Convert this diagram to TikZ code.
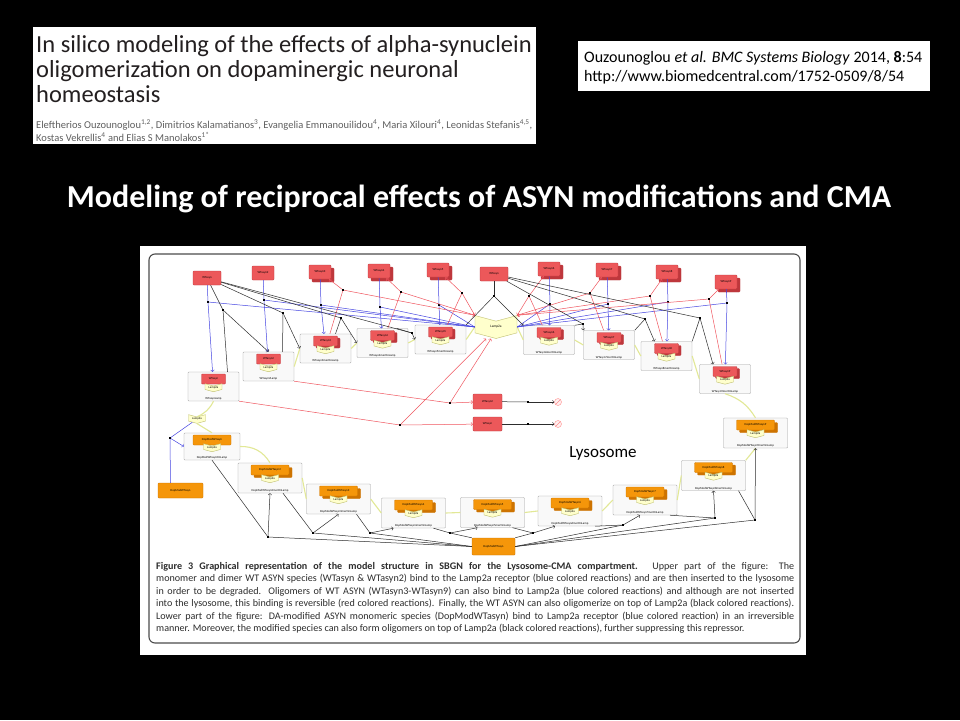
\documentclass[tikz,border=0pt]{standalone}
\usepackage{fontspec}
\setmainfont{Carlito}
\usepackage{xcolor}
\usetikzlibrary{arrows}
\usetikzlibrary{shapes.symbols}
\usetikzlibrary{shadows}

\definecolor{wtred}{RGB}{236,88,90}
\definecolor{wtdark}{RGB}{190,55,60}
\definecolor{dmorange}{RGB}{245,150,10}
\definecolor{dmdark}{RGB}{205,115,0}
\definecolor{lampfill}{RGB}{255,255,204}
\definecolor{lampdraw}{RGB}{190,190,110}
\definecolor{lampline}{RGB}{226,232,150}
\definecolor{rxblue}{RGB}{70,70,225}
\definecolor{rxred}{RGB}{240,85,95}
\definecolor{rxgray}{RGB}{45,45,45}
\definecolor{hdrgray}{RGB}{35,31,32}
\definecolor{authgray}{RGB}{95,95,95}
\definecolor{capgray}{RGB}{45,45,45}

\tikzset{
  tinyf/.style={font=\fontsize{3}{3}\selectfont},
  spc/.style={draw=wtdark, fill=wtred, rounded corners=0.8pt, minimum width=22pt, minimum height=14pt, inner sep=0pt, tinyf},
  spcm/.style={spc, copy shadow={shadow xshift=3pt, shadow yshift=-3pt, fill=wtdark, draw=wtdark}},
  dop/.style={spc, draw=dmdark, fill=dmorange},
  dopm/.style={dop, copy shadow={shadow xshift=3pt, shadow yshift=-3pt, fill=dmdark, draw=dmdark}},
  lamp/.style={shape=signal, signal from=north, signal to=south, signal pointer angle=150, draw=lampdraw, fill=lampfill, inner sep=0.5pt, tinyf},
  cplx/.style={draw=gray!75, fill=gray!5, rounded corners=0.8pt, minimum width=51pt, minimum height=29pt, inner sep=0pt},
  dcplx/.style={cplx, minimum width=64pt, minimum height=30pt},
  inwt/.style={spc, anchor=north, yshift=-2pt, minimum width=24pt, minimum height=10pt},
  inwtm/.style={inwt, copy shadow={shadow xshift=2.5pt, shadow yshift=-2pt, fill=wtdark, draw=wtdark}},
  indm/.style={dop, anchor=north, yshift=-2pt, minimum width=38pt, minimum height=10pt},
  indmm/.style={indm, copy shadow={shadow xshift=3pt, shadow yshift=-2.5pt, fill=dmdark, draw=dmdark}},
  inlamp/.style={lamp, anchor=north, yshift=-14pt, minimum width=17pt, minimum height=6pt},
  cname/.style={anchor=south, inner sep=1pt, tinyf},
  proc/.style={fill=black, inner sep=0pt, minimum size=1.6pt},
  sink/.style={circle, draw=red!45, fill=red!6, minimum size=7pt, inner sep=0pt,
    path picture={\draw[red!45] (path picture bounding box.south west) -- (path picture bounding box.north east);}},
  bl/.style={draw=rxblue, line width=0.5pt},
  rd/.style={draw=rxred, line width=0.5pt},
  bk/.style={draw=rxgray, line width=0.5pt},
  yl/.style={draw=lampline, line width=1.1pt},
  hdr/.style={anchor=base west, inner sep=0pt, text=hdrgray, font=\fontsize{24.5}{25}\selectfont},
  auth/.style={anchor=base west, inner sep=0pt, text=authgray, font=\fontsize{10.5}{11}\selectfont},
  citetxt/.style={anchor=base west, inner sep=0pt, text=black, font=\fontsize{16}{16}\selectfont},
  captxt/.style={anchor=base west, inner sep=0pt, text=capgray, font=\fontsize{10.1}{11}\selectfont}
}

\begin{document}
\begin{tikzpicture}[x=1pt,y=-1pt]
    \fill[black] (0,0) rectangle (960,720);
    \useasboundingbox (0,0) rectangle (960,720);

    % paper header
    \fill[white] (33,27) rectangle (536,144);
    \node[hdr] (head1) at (36,52) {In silico modeling of the effects of alpha-synuclein};
    \node[hdr] (head2) at (36,77.5) {oligomerization on dopaminergic neuronal};
    \node[hdr] (head3) at (36,102) {homeostasis};
    \node[auth] (auth1) at (36,128) {Eleftherios Ouzounoglou\textsuperscript{1,2}, Dimitrios Kalamatianos\textsuperscript{3}, Evangelia Emmanouilidou\textsuperscript{4}, Maria Xilouri\textsuperscript{4}, Leonidas Stefanis\textsuperscript{4,5},};
    \node[auth] (auth2) at (36,141) {Kostas Vekrellis\textsuperscript{4} and Elias S Manolakos\textsuperscript{1*}};

    \fill[white] (578,41) rectangle (930,91);
    \node[citetxt] (cite1) at (584,62) {Ouzounoglou \textit{et al. BMC Systems Biology} 2014, \textbf{8}:54};
    \node[citetxt] (cite2) at (584,81) {http://www.biomedcentral.com/1752-0509/8/54};

    \node[anchor=base, inner sep=0pt, text=white, font=\fontsize{32}{32}\selectfont\bfseries] (title) at (479,207) {Modeling of reciprocal effects of ASYN modifications and CMA};

    % figure panel
    \fill[white] (140,246) rectangle (806,655);
    \draw[rounded corners=6pt, line width=1.1pt, draw=gray!60!black] (149,254) rectangle (800,643);

    % WT species
    \node[spc, minimum width=28pt] (sA) at (207,278) {WTasyn};
    \node[spc] (s2) at (263,273) {WTasyn2};
    \node[spcm] (s3) at (320,272) {WTasyn3};
    \node[spcm] (s4) at (379,271) {WTasyn4};
    \node[spcm] (s5) at (438,270) {WTasyn5};
    \node[spc, minimum width=28pt] (sW) at (494,274) {WTasyn};
    \node[spcm] (s6) at (549,269) {WTasyn6};
    \node[spcm] (s7) at (607,270) {WTasyn7};
    \node[spcm] (s8) at (667,272) {WTasyn8};
    \node[spcm] (s9) at (726,282) {WTasyn9};
    \node[lamp, minimum width=42pt, minimum height=15pt, font=\fontsize{3.5}{4}\selectfont] (L) at (496,327) {Lamp2a};

    % WT complexes
    \node[cplx, label={[inwt,name=cAs]north:WTasyn}, label={[inlamp,name=cAl]north:Lamp2a}, label={[cname,name=cAn]south:WTasynLamp}] (cA) at (213.5,386.5) {};
    \node[cplx, label={[inwt,name=c2s]north:WTasyn2}, label={[inlamp,name=c2l]north:Lamp2a}, label={[cname,name=c2n]south:WTasyn2Lamp}] (c2) at (268.5,366.5) {};
    \node[cplx, label={[inwtm,name=c3s]north:WTasyn3}, label={[inlamp,name=c3l]north:Lamp2a}, label={[cname,name=c3n]south:WTasyn3merOnLamp}] (c3) at (325.5,348.5) {};
    \node[cplx, label={[inwtm,name=c4s]north:WTasyn4}, label={[inlamp,name=c4l]north:Lamp2a}, label={[cname,name=c4n]south:WTasyn4merOnLamp}] (c4) at (382.5,343) {};
    \node[cplx, label={[inwtm,name=c5s]north:WTasyn5}, label={[inlamp,name=c5l]north:Lamp2a}, label={[cname,name=c5n]south:WTasyn5merOnLamp}] (c5) at (440.5,339.5) {};
    \node[cplx, label={[inwtm,name=c6s]north:WTasyn6}, label={[inlamp,name=c6l]north:Lamp2a}, label={[cname,name=c6n]south:WTasyn6merOnLamp}] (c6) at (549,340) {};
    \node[cplx, label={[inwtm,name=c7s]north:WTasyn7}, label={[inlamp,name=c7l]north:Lamp2a}, label={[cname,name=c7n]south:WTasyn7merOnLamp}] (c7) at (609,345) {};
    \node[cplx, label={[inwtm,name=c8s]north:WTasyn8}, label={[inlamp,name=c8l]north:Lamp2a}, label={[cname,name=c8n]south:WTasyn8merOnLamp}] (c8) at (666.5,356) {};
    \node[cplx, label={[inwtm,name=c9s]north:WTasyn9}, label={[inlamp,name=c9l]north:Lamp2a}, label={[cname,name=c9n]south:WTasyn9merOnLamp}] (c9) at (725,379) {};

    % inserted species
    \node[spc, minimum width=29pt, minimum height=15pt] (wR2) at (487.5,401.5) {WTasyn2};
    \node[spc, minimum width=29pt, minimum height=14pt] (wR1) at (487.5,424) {WTasyn};
    \node[proc] (t2) at (528,402) {};
    \node[proc] (t1) at (528,424) {};
    \node[sink] (z2) at (558,402) {};
    \node[sink] (z1) at (558,424) {};

    \node[font=\fontsize{17}{17}\selectfont, text=black] (lyso) at (603,453) {Lysosome};

    % DopMod species and complexes
    \node[lamp, minimum width=17pt, minimum height=7pt] (l0) at (197,419) {Lamp2a};
    \node[dop, minimum width=45pt, minimum height=15pt] (dS) at (180.5,490.5) {DopModWTasyn};
    \node[dop, minimum width=43pt, minimum height=17pt] (dB) at (493.5,546.5) {DopModWTasyn};
    \node[cplx, minimum width=56pt, minimum height=27pt, label={[indm,name=dAs]north:DopModWTasyn}, label={[inlamp,yshift=1pt,name=dAl]north:Lamp2a}, label={[cname,name=dAn]south:DopModWTasynOnLamp}] (dA) at (212,446.5) {};
    \node[dcplx, label={[indmm,name=d2s]north:DopModWTasyn2}, label={[inlamp,name=d2l]north:Lamp2a}, label={[cname,name=d2n]south:DopModWTasyn2merOnLamp}] (d2) at (270,478) {};
    \node[dcplx, label={[indmm,name=d3s]north:DopModWTasyn3}, label={[inlamp,name=d3l]north:Lamp2a}, label={[cname,name=d3n]south:DopModWTasyn3merOnLamp}] (d3) at (338.5,499) {};
    \node[dcplx, label={[indmm,name=d4s]north:DopModWTasyn4}, label={[inlamp,name=d4l]north:Lamp2a}, label={[cname,name=d4n]south:DopModWTasyn4merOnLamp}] (d4) at (413.5,513) {};
    \node[dcplx, label={[indmm,name=d5s]north:DopModWTasyn5}, label={[inlamp,name=d5l]north:Lamp2a}, label={[cname,name=d5n]south:DopModWTasyn5merOnLamp}] (d5) at (492.5,512.5) {};
    \node[dcplx, label={[indmm,name=d6s]north:DopModWTasyn6}, label={[inlamp,name=d6l]north:Lamp2a}, label={[cname,name=d6n]south:DopModWTasyn6merOnLamp}] (d6) at (570,511) {};
    \node[dcplx, label={[indmm,name=d7s]north:DopModWTasyn7}, label={[inlamp,name=d7l]north:Lamp2a}, label={[cname,name=d7n]south:DopModWTasyn7merOnLamp}] (d7) at (645,500) {};
    \node[dcplx, label={[indmm,name=d8s]north:DopModWTasyn8}, label={[inlamp,name=d8l]north:Lamp2a}, label={[cname,name=d8n]south:DopModWTasyn8merOnLamp}] (d8) at (713.5,475.5) {};
    \node[dcplx, label={[indmm,name=d9s]north:DopModWTasyn9}, label={[inlamp,name=d9l]north:Lamp2a}, label={[cname,name=d9n]south:DopModWTasyn9merOnLamp}] (d9) at (755.5,433) {};

    % Lamp2a links
    \draw[yl] (cA.south) to[bend left=20] (l0.north);
    \draw[yl] (l0.south) -- (dA.north);
    \draw[yl] (c2.east) -- (c3.west);
    \draw[yl] (c3.east) -- (c4.west);
    \draw[yl] (c4.east) -- (c5.west);
    \draw[yl] (c5.east) -- (L.west);
    \draw[yl] (L.east) -- (c6.west);
    \draw[yl] (c6.east) -- (c7.west);
    \draw[yl] (c7.east) -- (c8.west);
    \draw[yl] (c8.east) -- (c9.west);
    \draw[yl] (c9.south) to[bend left=20] (d9.north);
    \draw[yl] (dA.east) to[bend left=30] (d2.north);
    \draw[yl] (d2.east) -- (d3.west);
    \draw[yl] (d3.east) -- (d4.west);
    \draw[yl] (d4.east) -- (d5.west);
    \draw[yl] (d5.east) -- (d6.west);
    \draw[yl] (d6.east) -- (d7.west);
    \draw[yl] (d7.east) -- (d8.west);
    \draw[yl] (d8.north east) -- (d9.south);

    % binding to Lamp2a (blue)
    \node[proc] (mA) at (208,302) {};
    \node[proc] (m2) at (264,300) {};
    \node[proc] (m3) at (321,305) {};
    \node[proc] (m4) at (380,307) {};
    \node[proc] (m5) at (439,305) {};
    \node[proc] (m6) at (550,304) {};
    \node[proc] (m7) at (608,304) {};
    \node[proc] (m8) at (668,302) {};
    \node[proc] (m9) at (727,303) {};
    \draw[bl] (sA) -- (mA); \draw[bl,->] (mA) -- (cA); \draw[bl] (L.west) -- (mA);
    \draw[bl] (s2) -- (m2); \draw[bl,->] (m2) -- (c2); \draw[bl] (L.west) -- (m2);
    \draw[bl] (s3) -- (m3); \draw[bl,->] (m3) -- (c3); \draw[bl] (L.west) -- (m3);
    \draw[bl] (s4) -- (m4); \draw[bl,->] (m4) -- (c4); \draw[bl] (L.west) -- (m4);
    \draw[bl] (s5) -- (m5); \draw[bl,->] (m5) -- (c5); \draw[bl] (L.west) -- (m5);
    \draw[bl] (s6) -- (m6); \draw[bl,->] (m6) -- (c6); \draw[bl] (L.east) -- (m6);
    \draw[bl] (s7) -- (m7); \draw[bl,->] (m7) -- (c7); \draw[bl] (L.east) -- (m7);
    \draw[bl] (s8) -- (m8); \draw[bl,->] (m8) -- (c8); \draw[bl] (L.east) -- (m8);
    \draw[bl] (s9) -- (m9); \draw[bl,->] (m9) -- (c9); \draw[bl] (L.east) -- (m9);

    % reversible release (red)
    \node[proc] (r3) at (343,290) {};
    \node[proc] (r4) at (401,292) {};
    \node[proc] (r5) at (462,293) {};
    \node[proc] (r6) at (529,296) {};
    \node[proc] (r7) at (590,293) {};
    \node[proc] (r8) at (650,296) {};
    \node[proc] (r9) at (709,299) {};
    \draw[rd] (c3) -- (r3); \draw[rd,->] (r3) -- (s3); \draw[rd,->] (r3) -- (L.north west);
    \draw[rd] (c4) -- (r4); \draw[rd,->] (r4) -- (s4); \draw[rd,->] (r4) -- (L.north west);
    \draw[rd] (c5) -- (r5); \draw[rd,->] (r5) -- (s5); \draw[rd,->] (r5) -- (L.north west);
    \draw[rd] (c6) -- (r6); \draw[rd,->] (r6) -- (s6); \draw[rd,->] (r6) -- (L.north east);
    \draw[rd] (c7) -- (r7); \draw[rd,->] (r7) -- (s7); \draw[rd,->] (r7) -- (L.north east);
    \draw[rd] (c8) -- (r8); \draw[rd,->] (r8) -- (s8); \draw[rd,->] (r8) -- (L.north east);
    \draw[rd] (c9) -- (r9); \draw[rd,->] (r9) -- (s9); \draw[rd,->] (r9) -- (L.north east);

    % insertion into the lysosome
    \node[proc] (iA) at (400,425) {};
    \node[proc] (i2) at (450,403) {};
    \draw[rd] (cA.south east) -- (iA); \draw[rd,->] (iA) -- (wR1); \draw[rd,->] (iA) -- ([xshift=-10pt]L.south);
    \draw[rd] (c2.south east) -- (i2); \draw[rd,->] (i2) -- (wR2); \draw[rd,->] (i2) -- ([xshift=-5pt]L.south);
    \draw[bk] (wR2) -- (t2); \draw[bk,->] (t2) -- (z2);
    \draw[bk] (wR1) -- (t1); \draw[bk,->] (t1) -- (z1);

    % oligomerization on Lamp2a (black)
    \node[proc] (p1) at (223,310) {};
    \node[proc] (p2) at (283,313) {};
    \node[proc] (p3) at (341,318) {};
    \node[proc] (p4) at (412,333) {};
    \node[proc] (q) at (494,296) {};
    \node[proc] (p6) at (583,324) {};
    \node[proc] (p7) at (645,319) {};
    \node[proc] (p8) at (700,318) {};
    \draw[bk] (sA) -- (p1); \draw[bk] ([xshift=14pt]cA.north) -- (p1); \draw[bk,->] (p1) -- (c2.north);
    \draw[bk] (sA) -- (p2); \draw[bk] ([xshift=14pt]c2.north) -- (p2); \draw[bk,->] (p2) -- (c3.west);
    \draw[bk] (sA) -- (p3); \draw[bk] ([xshift=10pt]c3.north) -- (p3); \draw[bk,->] (p3) -- (c4.west);
    \draw[bk] (sA) -- (p4); \draw[bk] ([xshift=14pt]c4.north) -- (p4); \draw[bk,->] (p4) -- (c5.west);
    \draw[bk] (sW) -- (q); \draw[bk] (q) -- (c5.north east); \draw[bk,->] (q) -- (c6.north west);
    \draw[bk] (sW) -- (p6); \draw[bk] (c6.north east) -- (p6); \draw[bk,->] (p6) -- (c7.north west);
    \draw[bk] (sW) -- (p7); \draw[bk] (c7.north east) -- (p7); \draw[bk,->] (p7) -- ([xshift=-12pt]c8.north);
    \draw[bk] (sW) -- (p8); \draw[bk] (c8.north east) -- (p8); \draw[bk,->] (p8) -- ([xshift=-12pt]c9.north);

    % DopMod binding and oligomerization
    \node[proc] (b0) at (170,438) {};
    \draw[bl] (l0) -- (b0); \draw[bl] ([xshift=-10pt]dS.north) -- (b0); \draw[bl,->] (b0) -- (dA.west);
    \node[proc] (e1) at (268,537) {};
    \node[proc] (e2) at (313,533) {};
    \node[proc] (e3) at (370,533) {};
    \node[proc] (e4) at (450,533) {};
    \node[proc] (e5) at (533,533) {};
    \node[proc] (e6) at (623,525) {};
    \node[proc] (e7) at (715,518) {};
    \node[proc] (e8) at (755,520) {};
    \draw[bk] (dA.south) -- (e1); \draw[bk,->] (e1) -- (d2.south); \draw[bk] (dB.west) -- (e1);
    \draw[bk] ([xshift=13pt]d2.south) -- (e2); \draw[bk,->] (e2) -- (d3.south); \draw[bk] (dB.west) -- (e2);
    \draw[bk] ([xshift=18pt]d3.south) -- (e3); \draw[bk,->] (e3) -- ([xshift=-20pt]d4.south); \draw[bk] (dB.west) -- (e3);
    \draw[bk] ([xshift=20pt]d4.south) -- (e4); \draw[bk,->] (e4) -- ([xshift=-15pt]d5.south); \draw[bk] (dB.north west) -- (e4);
    \draw[bk] ([xshift=20pt]d5.south) -- (e5); \draw[bk,->] (e5) -- ([xshift=-15pt]d6.south); \draw[bk] (dB.north east) -- (e5);
    \draw[bk] ([xshift=25pt]d6.south) -- (e6); \draw[bk,->] (e6) -- ([xshift=-5pt]d7.south); \draw[bk] (dB.east) -- (e6);
    \draw[bk] ([xshift=25pt]d7.south) -- (e7); \draw[bk,->] (e7) -- (d8.south); \draw[bk] (dB.east) -- (e7);
    \draw[bk] ([xshift=25pt]d8.south) -- (e8); \draw[bk,->] (e8) -- (d9.south); \draw[bk] (dB.east) -- (e8);

    % caption
    \node[captxt] (cap1) at (156,569) {\makebox[638pt][s]{\textbf{Figure 3 Graphical representation of the model structure in SBGN for the Lysosome-CMA compartment.} Upper part of the figure: The}};
    \node[captxt] (cap2) at (156,581.5) {\makebox[638pt][s]{monomer and dimer WT ASYN species (WTasyn \& WTasyn2) bind to the Lamp2a receptor (blue colored reactions) and are then inserted to the lysosome}};
    \node[captxt] (cap3) at (156,594) {\makebox[638pt][s]{in order to be degraded. Oligomers of WT ASYN (WTasyn3-WTasyn9) can also bind to Lamp2a (blue colored reactions) and although are not inserted}};
    \node[captxt] (cap4) at (156,606.5) {\makebox[638pt][s]{into the lysosome, this binding is reversible (red colored reactions). Finally, the WT ASYN can also oligomerize on top of Lamp2a (black colored reactions).}};
    \node[captxt] (cap5) at (156,619) {\makebox[638pt][s]{Lower part of the figure: DA-modified ASYN monomeric species (DopModWTasyn) bind to Lamp2a receptor (blue colored reaction) in an irreversible}};
    \node[captxt] (cap6) at (156,631.5) {manner. Moreover, the modified species can also form oligomers on top of Lamp2a (black colored reactions), further suppressing this repressor.};
\end{tikzpicture}
\end{document}
